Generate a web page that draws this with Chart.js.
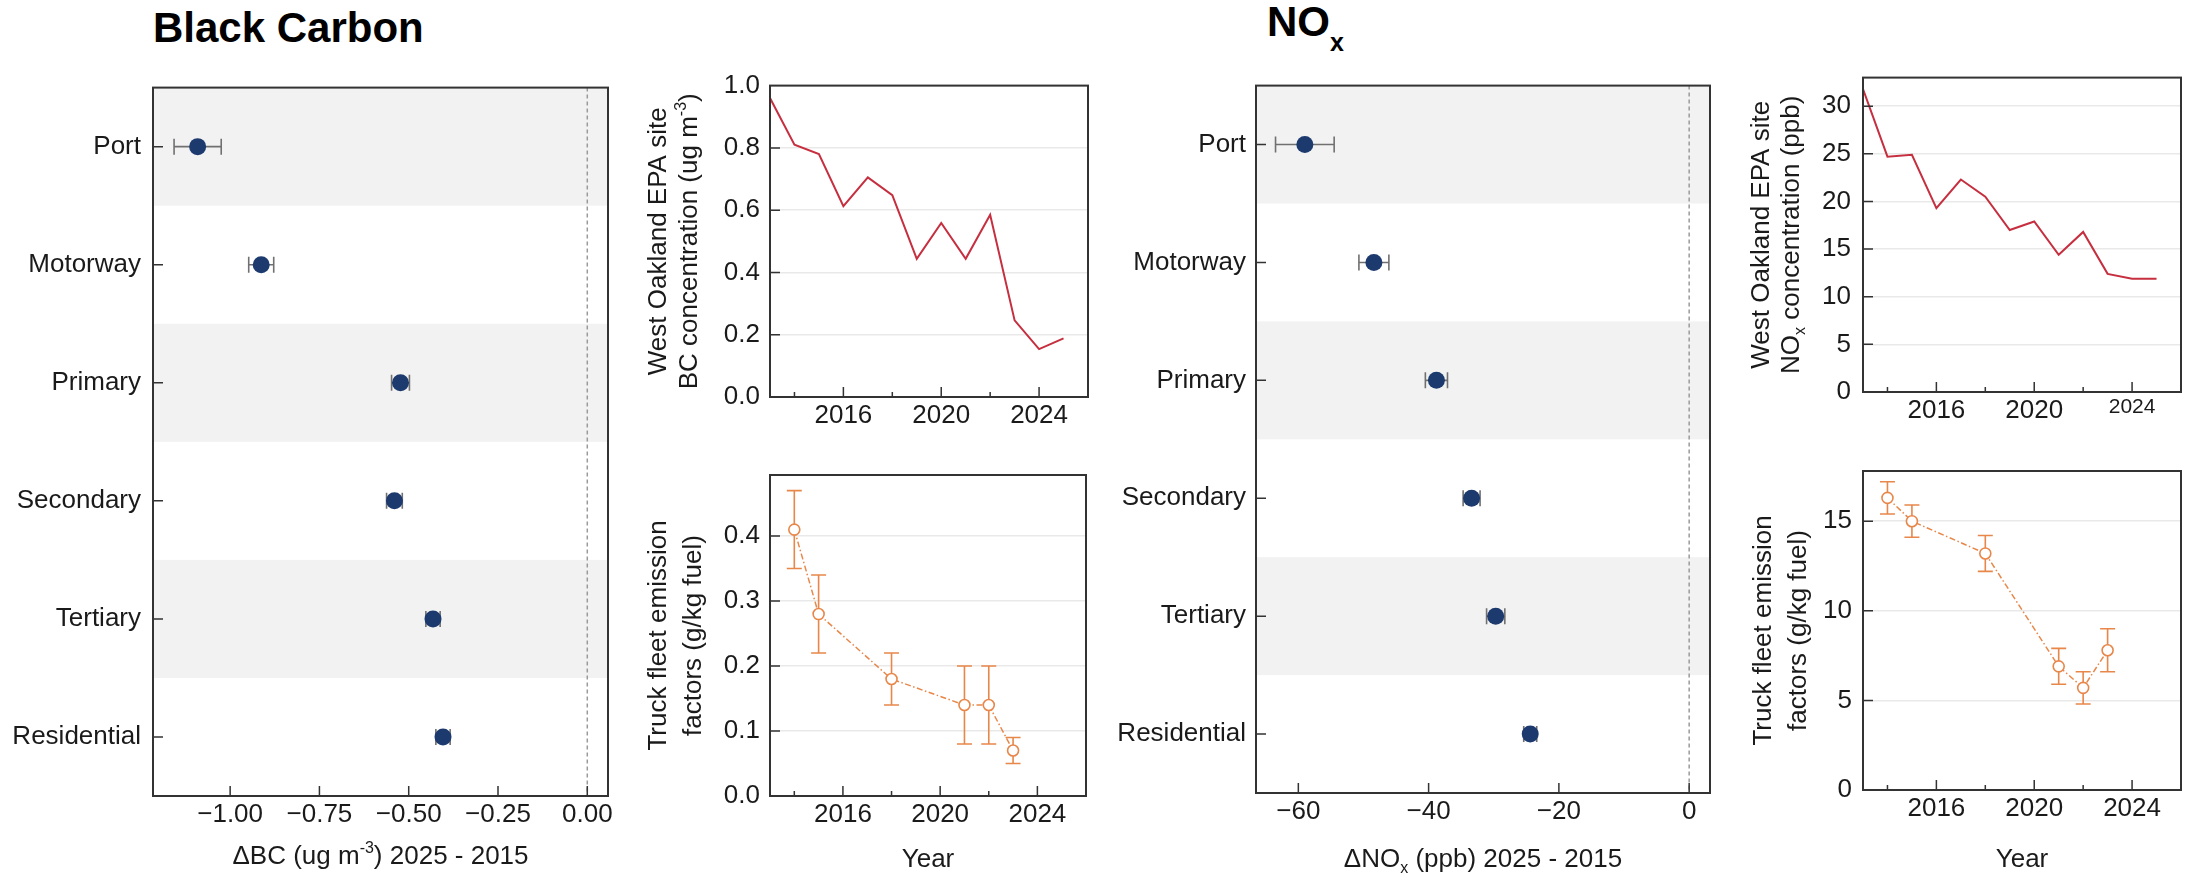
<!DOCTYPE html>
<html>
<head>
<meta charset="utf-8">
<script src="https://cdn.jsdelivr.net/npm/chart.js@4.4.1/dist/chart.umd.min.js"></script>
<style>
body { margin: 0; background: #fff; width: 2190px; height: 878px; position: relative; overflow: hidden; font-family: 'Liberation Sans', Arial, sans-serif; }
canvas { position: absolute; }
.title { position: absolute; font-weight: bold; font-size: 42px; line-height: 42px; color: #000; white-space: nowrap; }
</style>
</head>
<body>
<div class="title" style="left:153px; top:7px;">Black Carbon</div>
<div class="title" style="left:1267px; top:1px;">NO<span style="font-size:25px; vertical-align:-15px;">x</span></div>

<canvas id="bcChange" width="620" height="818" style="left:0px; top:60px;"></canvas>
<canvas id="bcSite" width="470" height="380" style="left:625px; top:60px;"></canvas>
<canvas id="bcTruck" width="470" height="438" style="left:625px; top:440px;"></canvas>
<canvas id="noxChange" width="625" height="818" style="left:1095px; top:60px;"></canvas>
<canvas id="noxSite" width="470" height="390" style="left:1720px; top:50px;"></canvas>
<canvas id="noxTruck" width="470" height="438" style="left:1720px; top:440px;"></canvas>

<script>
var FONT = "'Liberation Sans', Arial, sans-serif";
var NAVY = '#1c3a6e';
var RED = '#c62f3f';
var ORANGE = '#e8874a';
var TEXT = '#1a1a1a';

// change 2025 - 2015 by road type
var roadTypes = ['Port', 'Motorway', 'Primary', 'Secondary', 'Tertiary', 'Residential'];
var bcChange = [-1.091, -0.913, -0.523, -0.540, -0.432, -0.404];
var bcChangeErr = [0.066, 0.035, 0.025, 0.022, 0.02, 0.02];
var noxChange = [-59.0, -48.4, -38.8, -33.4, -29.7, -24.4];
var noxChangeErr = [4.5, 2.3, 1.7, 1.3, 1.4, 1.0];

// West Oakland EPA site
var siteYears = [2013, 2014, 2015, 2016, 2017, 2018, 2019, 2020, 2021, 2022, 2023, 2024, 2025];
var bcSite = [0.96, 0.81, 0.78, 0.613, 0.705, 0.648, 0.444, 0.559, 0.444, 0.585, 0.246, 0.154, 0.188];
var noxSite = [31.8, 24.7, 24.9, 19.3, 22.3, 20.5, 17.0, 17.9, 14.4, 16.8, 12.4, 11.9, 11.9];

// truck fleet emission factors
var truckYears = [2014, 2015, 2018, 2021, 2022, 2023];
var bcTruck = [0.41, 0.28, 0.18, 0.14, 0.14, 0.07];
var bcTruckLow = [0.35, 0.22, 0.14, 0.08, 0.08, 0.05];
var bcTruckHigh = [0.47, 0.34, 0.22, 0.20, 0.20, 0.09];
var noxTruck = [16.3, 15.0, 13.2, 6.9, 5.7, 7.8];
var noxTruckLow = [15.4, 14.1, 12.2, 5.9, 4.8, 6.6];
var noxTruckHigh = [17.2, 15.9, 14.2, 7.9, 6.6, 9.0];

var yearLabels = [2016, 2020, 2024];
var shadedRows = [0, 2, 4];

// text with superscript / subscript pieces, centred on (x, y)
function drawRich(ctx, parts, x, y, size) {
    var small = Math.round(size * 0.62);
    var total = 0;
    parts.forEach(function(p) {
        ctx.font = (p[1] ? small : size) + 'px ' + FONT;
        total += ctx.measureText(p[0]).width;
    });
    var cx = x - total / 2;
    var base = y + size * 0.36;
    ctx.textAlign = 'left';
    ctx.textBaseline = 'alphabetic';
    parts.forEach(function(p) {
        ctx.font = (p[1] ? small : size) + 'px ' + FONT;
        var yy = base;
        if (p[1] === 'sup') yy = base - size * 0.42;
        if (p[1] === 'sub') yy = base + size * 0.2;
        ctx.fillText(p[0], cx, yy);
        cx += ctx.measureText(p[0]).width;
    });
}

function makeDeco(cfg) {
    return {
        id: 'deco',
        beforeDatasetsDraw: function(chart) {
            var ctx = chart.ctx, a = chart.chartArea, xs = chart.scales.x, ys = chart.scales.y;
            ctx.save();
            if (cfg.bands) {
                ctx.fillStyle = '#f2f2f2';
                cfg.bands.forEach(function(i) {
                    var y0 = ys.getPixelForValue(i - 0.5);
                    var y1 = ys.getPixelForValue(i + 0.5);
                    ctx.fillRect(a.left, y0, a.right - a.left, y1 - y0);
                });
            }
            if (cfg.zeroLine) {
                var x0 = xs.getPixelForValue(0);
                ctx.strokeStyle = '#9a9a9a';
                ctx.lineWidth = 1.5;
                ctx.setLineDash([4, 3]);
                ctx.beginPath();
                ctx.moveTo(x0, a.top);
                ctx.lineTo(x0, a.bottom);
                ctx.stroke();
                ctx.setLineDash([]);
            }
            if (cfg.xErr) {
                ctx.strokeStyle = '#707070';
                ctx.lineWidth = 1.6;
                ctx.beginPath();
                cfg.xErr.vals.forEach(function(v, i) {
                    var e = cfg.xErr.errs[i];
                    var l = xs.getPixelForValue(v - e), r = xs.getPixelForValue(v + e), y = ys.getPixelForValue(i);
                    ctx.moveTo(l, y); ctx.lineTo(r, y);
                    ctx.moveTo(l, y - 8); ctx.lineTo(l, y + 8);
                    ctx.moveTo(r, y - 8); ctx.lineTo(r, y + 8);
                });
                ctx.stroke();
            }
            if (cfg.yErr) {
                ctx.strokeStyle = ORANGE;
                ctx.lineWidth = 1.6;
                ctx.beginPath();
                cfg.yErr.xs.forEach(function(xv, i) {
                    var x = xs.getPixelForValue(xv);
                    var lo = ys.getPixelForValue(cfg.yErr.lo[i]), hi = ys.getPixelForValue(cfg.yErr.hi[i]);
                    ctx.moveTo(x, lo); ctx.lineTo(x, hi);
                    ctx.moveTo(x - 7.5, lo); ctx.lineTo(x + 7.5, lo);
                    ctx.moveTo(x - 7.5, hi); ctx.lineTo(x + 7.5, hi);
                });
                ctx.stroke();
            }
            ctx.restore();
        },
        afterDraw: function(chart) {
            var ctx = chart.ctx, a = chart.chartArea, xs = chart.scales.x, ys = chart.scales.y;
            ctx.save();
            // inward tick marks
            ctx.strokeStyle = '#333';
            ctx.lineWidth = 1.5;
            ctx.beginPath();
            xs.ticks.forEach(function(t, i) {
                var px = xs.getPixelForTick(i);
                if (px < a.left + 2 || px > a.right - 2) return;
                var len = (cfg.minorYears && yearLabels.indexOf(t.value) < 0) ? 5 : 10;
                ctx.moveTo(px, a.bottom);
                ctx.lineTo(px, a.bottom - len);
            });
            ys.ticks.forEach(function(t, i) {
                var py = ys.getPixelForTick(i);
                if (py < a.top + 2 || py > a.bottom - 2) return;
                ctx.moveTo(a.left, py);
                ctx.lineTo(a.left + 10, py);
            });
            ctx.stroke();
            ctx.lineWidth = 2;
            ctx.strokeRect(a.left, a.top, a.right - a.left, a.bottom - a.top);
            ctx.fillStyle = TEXT;
            if (cfg.xTitle) {
                drawRich(ctx, cfg.xTitle, (a.left + a.right) / 2, a.bottom + cfg.xTitleDy, 26);
            }
            if (cfg.yTitle) {
                cfg.yTitle.forEach(function(line, k) {
                    ctx.save();
                    ctx.translate(a.left - cfg.yTitleDx[k], (a.top + a.bottom) / 2);
                    ctx.rotate(-Math.PI / 2);
                    drawRich(ctx, line, 0, 0, 26);
                    ctx.restore();
                });
            }
            ctx.restore();
        }
    };
}

function dotChart(id, vals, errs, xMin, xMax, step, fmt, box, xTitle) {
    return new Chart(document.getElementById(id), {
        type: 'scatter',
        data: {
            datasets: [{
                data: vals.map(function(v, i) { return {x: v, y: roadTypes[i]}; }),
                pointRadius: 8.5,
                pointHoverRadius: 8.5,
                backgroundColor: NAVY,
                borderWidth: 0
            }]
        },
        options: {
            responsive: false,
            animation: false,
            events: [],
            layout: {padding: {top: box.top, right: box.right, left: 0, bottom: 0}},
            plugins: {legend: {display: false}, tooltip: {enabled: false}},
            scales: {
                x: {
                    type: 'linear', min: xMin, max: xMax,
                    border: {display: false},
                    grid: {display: false, drawTicks: false},
                    ticks: {stepSize: step, includeBounds: false, autoSkip: false, maxRotation: 0, padding: 3,
                        color: TEXT, font: {family: FONT, size: 26}, callback: fmt},
                    afterFit: function(s) { s.height = box.xh; }
                },
                y: {
                    type: 'category', labels: roadTypes, offset: true,
                    border: {display: false},
                    grid: {display: false, drawTicks: false},
                    ticks: {padding: box.ypad, color: TEXT, font: {family: FONT, size: 26}},
                    afterFit: function(s) { s.width = box.yw; }
                }
            }
        },
        plugins: [makeDeco({bands: shadedRows, zeroLine: true, xErr: {vals: vals, errs: errs},
            xTitle: xTitle, xTitleDy: box.titleDy})]
    });
}

function lineChart(id, dataset, yMin, yMax, yStep, yFmt, box, deco) {
    deco.minorYears = true;
    return new Chart(document.getElementById(id), {
        type: 'line',
        data: {datasets: [dataset]},
        options: {
            responsive: false,
            animation: false,
            events: [],
            layout: {padding: {top: box.top, right: box.right, left: 0, bottom: 0}},
            plugins: {legend: {display: false}, tooltip: {enabled: false}},
            scales: {
                x: {
                    type: 'linear', min: 2013, max: 2026,
                    border: {display: false},
                    grid: {display: false, drawTicks: false},
                    ticks: {stepSize: 2, includeBounds: false, autoSkip: false, maxRotation: 0, padding: 3, color: TEXT,
                        font: function(c) {
                            var s = (box.small2024 && c.tick && c.tick.value === 2024) ? 21 : 26;
                            return {family: FONT, size: s};
                        },
                        callback: function(v) { return yearLabels.indexOf(v) >= 0 ? String(v) : ''; }},
                    afterFit: function(s) { s.height = box.xh; }
                },
                y: {
                    type: 'linear', min: yMin, max: yMax,
                    border: {display: false},
                    grid: {color: '#e9e9e9', lineWidth: 1.5, drawTicks: false},
                    ticks: {stepSize: yStep, includeBounds: false, padding: box.ypad, color: TEXT,
                        font: {family: FONT, size: 26}, callback: yFmt},
                    afterFit: function(s) { s.width = box.yw; }
                }
            }
        },
        plugins: [makeDeco(deco)]
    });
}

function siteSeries(vals) {
    return {
        data: siteYears.map(function(yr, i) { return {x: yr, y: vals[i]}; }),
        borderColor: RED, borderWidth: 2, pointRadius: 0, tension: 0, fill: false
    };
}

function truckSeries(vals) {
    return {
        data: truckYears.map(function(yr, i) { return {x: yr, y: vals[i]}; }),
        borderColor: ORANGE, borderWidth: 1.5, borderDash: [6, 2.5, 1.5, 2.5],
        pointRadius: 5.5, pointHoverRadius: 5.5, pointBorderWidth: 1.6,
        pointBorderColor: ORANGE, pointBackgroundColor: '#fff', tension: 0, fill: false
    };
}

function minusFmt(digits) {
    return function(v) {
        if (Math.abs(v) < 1e-9) return (0).toFixed(digits);
        return (v < 0 ? '\u2212' : '') + Math.abs(v).toFixed(digits);
    };
}

var truckTitle = [[['Truck fleet emission', '']], [['factors (g/kg fuel)', '']]];

dotChart('bcChange', bcChange, bcChangeErr, -1.216, 0.058, 0.25, minusFmt(2),
    {top: 18, right: 12, xh: 82, yw: 153, ypad: 12, titleDy: 59},
    [['\u0394BC (ug m', ''], ['-3', 'sup'], [') 2025 - 2015', '']]);

dotChart('noxChange', noxChange, noxChangeErr, -66.5, 3.2, 20, minusFmt(0),
    {top: 15, right: 10, xh: 85, yw: 161, ypad: 10, titleDy: 65},
    [['\u0394NO', ''], ['x', 'sub'], [' (ppb) 2025 - 2015', '']]);

lineChart('bcSite', siteSeries(bcSite), 0, 1, 0.2, function(v) { return v.toFixed(1); },
    {top: 18, right: 7, xh: 43, yw: 145, ypad: 10},
    {yTitle: [[['West Oakland EPA site', '']], [['BC concentration (ug m', ''], ['-3', 'sup'], [')', '']]],
     yTitleDx: [113, 82]});

lineChart('bcTruck', truckSeries(bcTruck), 0, 0.494, 0.1, function(v) { return v.toFixed(1); },
    {top: 35, right: 9, xh: 82, yw: 145, ypad: 10},
    {yTitle: truckTitle, yTitleDx: [113, 78], xTitle: [['Year', '']], xTitleDy: 62,
     yErr: {xs: truckYears, lo: bcTruckLow, hi: bcTruckHigh}});

lineChart('noxSite', siteSeries(noxSite), 0, 33, 5, function(v) { return String(v); },
    {top: 21, right: 9, xh: 48, yw: 143, ypad: 12, small2024: true},
    {yTitle: [[['West Oakland EPA site', '']], [['NO', ''], ['x', 'sub'], [' concentration (ppb)', '']]],
     yTitleDx: [103, 73]});

lineChart('noxTruck', truckSeries(noxTruck), 0, 17.8, 5, function(v) { return String(v); },
    {top: 31, right: 9, xh: 88, yw: 143, ypad: 11},
    {yTitle: truckTitle, yTitleDx: [101, 66], xTitle: [['Year', '']], xTitleDy: 68,
     yErr: {xs: truckYears, lo: noxTruckLow, hi: noxTruckHigh}});
</script>
</body>
</html>
